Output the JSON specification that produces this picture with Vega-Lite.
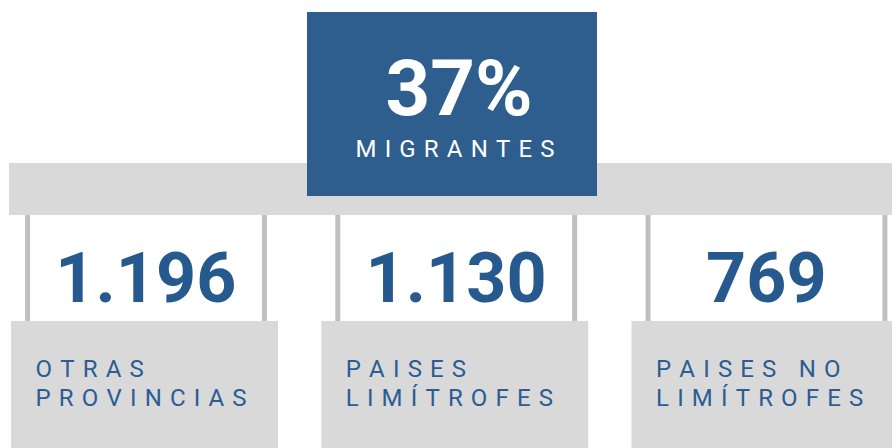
{
  "$schema": "https://vega.github.io/schema/vega-lite/v6.json",
  "width": 892,
  "height": 448,
  "padding": 0,
  "autosize": {"type": "none"},
  "background": "#ffffff",
  "config": {
    "view": {"stroke": null},
    "locale": {"number": {"decimal": ",", "thousands": ".", "grouping": [3], "currency": ["$", ""]}}
  },
  "datasets": {
    "categorias": [
      {"categoria": "OTRAS PROVINCIAS", "cantidad": 1196, "linea1": "OTRAS", "linea2": "PROVINCIAS"},
      {"categoria": "PAISES LIMÍTROFES", "cantidad": 1130, "linea1": "PAISES", "linea2": "LIMÍTROFES"},
      {"categoria": "PAISES NO LIMÍTROFES", "cantidad": 769, "linea1": "PAISES NO", "linea2": "LIMÍTROFES"}
    ],
    "total": [{"proporcion": 0.37, "etiqueta": "MIGRANTES"}]
  },
  "resolve": {"scale": {"x": "independent", "y": "shared"}},
  "layer": [
    {
      "data": {"name": "total"},
      "mark": {"type": "rect", "color": "#d9d9d9"},
      "encoding": {
        "x": {"datum": 9, "type": "quantitative", "scale": {"domain": [0, 892], "nice": false, "zero": false}, "axis": null},
        "x2": {"datum": 900},
        "y": {"datum": 163, "type": "quantitative", "scale": {"domain": [0, 448], "reverse": true, "nice": false, "zero": false}, "axis": null},
        "y2": {"datum": 215}
      }
    },
    {
      "data": {"name": "total"},
      "mark": {"type": "rect", "color": "#2e5e8e"},
      "encoding": {
        "x": {"datum": 307, "type": "quantitative", "scale": {"domain": [0, 892], "nice": false, "zero": false}, "axis": null},
        "x2": {"datum": 597},
        "y": {"datum": 12, "type": "quantitative", "axis": null},
        "y2": {"datum": 196}
      }
    },
    {
      "data": {"name": "total"},
      "mark": {"type": "text", "font": "Roboto", "fontWeight": "bold", "fontSize": 78, "color": "#ffffff", "align": "center", "baseline": "alphabetic"},
      "encoding": {
        "x": {"datum": 459, "type": "quantitative", "scale": {"domain": [0, 892], "nice": false, "zero": false}, "axis": null},
        "y": {"datum": 115, "type": "quantitative", "axis": null},
        "text": {"field": "proporcion", "type": "quantitative", "format": ".0%"}
      }
    },
    {
      "data": {"name": "total"},
      "mark": {"type": "text", "font": "Roboto", "fontSize": 24, "color": "#ffffff", "align": "center", "baseline": "alphabetic",
               "text": {"expr": "join(split(datum.etiqueta, ''), '\u2004')"}},
      "encoding": {
        "x": {"datum": 455, "type": "quantitative", "scale": {"domain": [0, 892], "nice": false, "zero": false}, "axis": null},
        "y": {"datum": 157, "type": "quantitative", "axis": null}
      }
    },
    {
      "data": {"name": "categorias"},
      "mark": {"type": "rule", "color": "#c0c0c0", "strokeWidth": 5},
      "encoding": {
        "x": {"field": "categoria", "type": "nominal", "sort": null, "bandPosition": 0.062,
              "scale": {"type": "band", "range": [11, 898.5], "paddingInner": 0.1394, "paddingOuter": 0}, "axis": null},
        "y": {"datum": 215, "type": "quantitative", "axis": null},
        "y2": {"datum": 321}
      }
    },
    {
      "data": {"name": "categorias"},
      "mark": {"type": "rule", "color": "#c0c0c0", "strokeWidth": 5},
      "encoding": {
        "x": {"field": "categoria", "type": "nominal", "sort": null, "bandPosition": 0.949,
              "scale": {"type": "band", "range": [11, 898.5], "paddingInner": 0.1394, "paddingOuter": 0}, "axis": null},
        "y": {"datum": 215, "type": "quantitative", "axis": null},
        "y2": {"datum": 321}
      }
    },
    {
      "data": {"name": "categorias"},
      "mark": {"type": "rect", "color": "#d9d9d9"},
      "encoding": {
        "x": {"field": "categoria", "type": "nominal", "sort": null,
              "scale": {"type": "band", "range": [11, 898.5], "paddingInner": 0.1394, "paddingOuter": 0}, "axis": null},
        "y": {"datum": 321, "type": "quantitative", "axis": null},
        "y2": {"datum": 448}
      }
    },
    {
      "data": {"name": "categorias"},
      "mark": {"type": "text", "font": "Roboto", "fontWeight": "bold", "fontSize": 70, "color": "#265a8e", "align": "center", "baseline": "alphabetic"},
      "encoding": {
        "x": {"field": "categoria", "type": "nominal", "sort": null, "bandPosition": 0.505,
              "scale": {"type": "band", "range": [11, 898.5], "paddingInner": 0.1394, "paddingOuter": 0}, "axis": null},
        "y": {"datum": 302, "type": "quantitative", "axis": null},
        "text": {"field": "cantidad", "type": "quantitative", "format": ",d"}
      }
    },
    {
      "data": {"name": "categorias"},
      "mark": {"type": "text", "font": "Roboto", "fontSize": 24, "color": "#2b5c94", "align": "left", "baseline": "alphabetic",
               "text": {"expr": "join(split(datum.linea1, ''), '\u2004')"}},
      "encoding": {
        "x": {"field": "categoria", "type": "nominal", "sort": null, "bandPosition": 0.092,
              "scale": {"type": "band", "range": [11, 898.5], "paddingInner": 0.1394, "paddingOuter": 0}, "axis": null},
        "y": {"datum": 377, "type": "quantitative", "axis": null}
      }
    },
    {
      "data": {"name": "categorias"},
      "mark": {"type": "text", "font": "Roboto", "fontSize": 24, "color": "#2b5c94", "align": "left", "baseline": "alphabetic",
               "text": {"expr": "join(split(datum.linea2, ''), '\u2004')"}},
      "encoding": {
        "x": {"field": "categoria", "type": "nominal", "sort": null, "bandPosition": 0.092,
              "scale": {"type": "band", "range": [11, 898.5], "paddingInner": 0.1394, "paddingOuter": 0}, "axis": null},
        "y": {"datum": 406, "type": "quantitative", "axis": null}
      }
    }
  ]
}
